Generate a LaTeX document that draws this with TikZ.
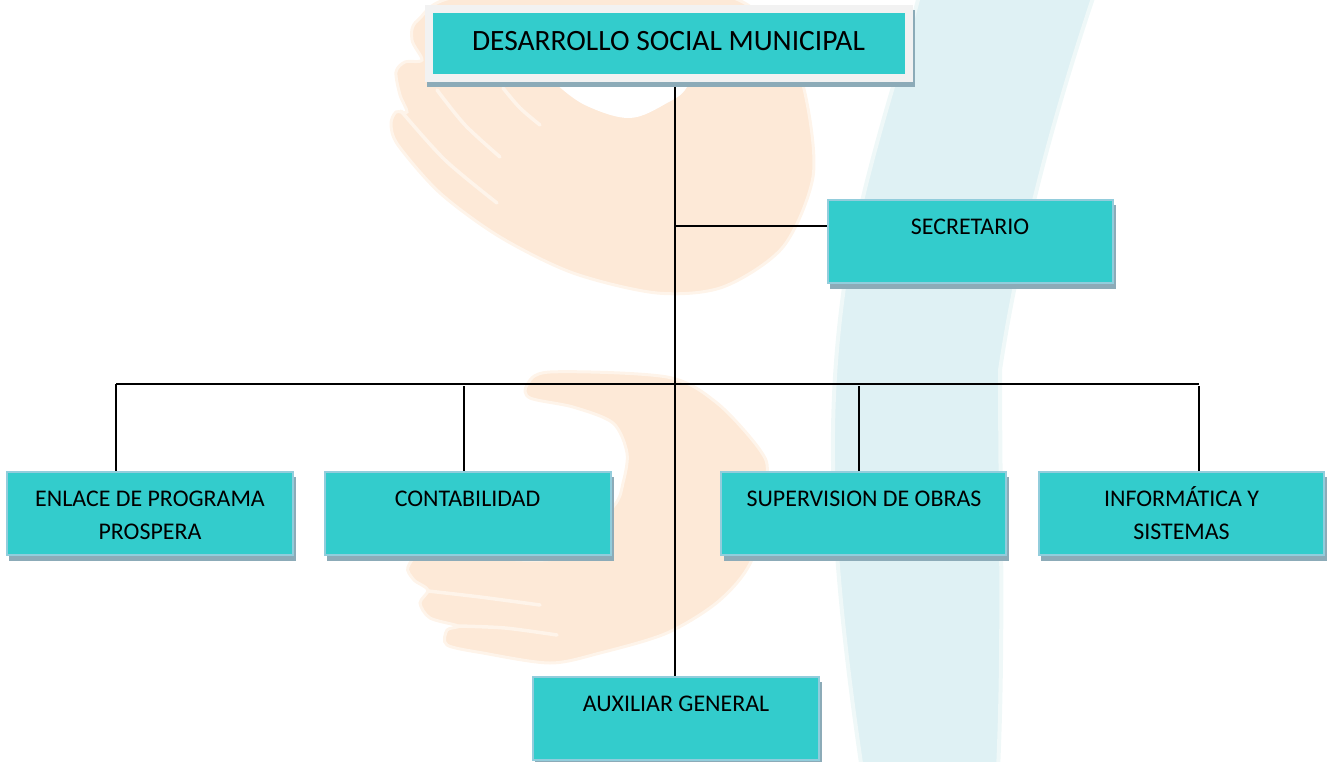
\documentclass[tikz,border=0pt]{standalone}
\usepackage{fontspec}
\setmainfont{Carlito}
\usetikzlibrary{backgrounds}
\definecolor{boxfill}{HTML}{33CCCC}
\definecolor{boxedge}{HTML}{92CDDC}
\definecolor{boxshadow}{HTML}{8CABB8}
\definecolor{topedge}{HTML}{F2F2F2}
\definecolor{wmorange}{HTML}{FDE9D7}
\definecolor{wmorangesoft}{HTML}{FEF4EA}
\definecolor{wmteal}{HTML}{DFF1F4}
\definecolor{wmtealsoft}{HTML}{EFF8F8}
\tikzset{
  orgbox/.style={rectangle,fill=boxfill,draw=boxedge,line width=2bp,outer sep=1bp,inner sep=0pt,minimum height=83bp},
  titlebox/.style={rectangle,fill=boxfill,draw=topedge,line width=7.8bp,outer sep=3.9bp,inner sep=0pt,minimum width=480bp,minimum height=69bp},
  boxtext/.style={anchor=north,inner sep=0pt,align=center,text=black,font=\fontsize{24}{34}\selectfont},
  titletext/.style={anchor=north,inner sep=0pt,text=black,font=\fontsize{29.6}{34}\selectfont},
  link/.style={draw=black,line width=1.9bp},
  handfill/.style={fill=wmorange,draw=wmorangesoft,line width=3bp},
  streak/.style={draw=wmorangesoft,line width=3.5bp,line cap=round},
  bandfill/.style={fill=wmteal,draw=wmtealsoft,line width=4bp}
}
\begin{document}
\begin{tikzpicture}[x=1bp,y=-1bp]
\useasboundingbox (0,0) rectangle (1328,761);

% boxes
\node[titlebox] (top) at (669,43.5) {};
\node[orgbox,minimum width=285bp] (sec) at (970.3,241.5) {};
\node[orgbox,minimum width=286bp] (enl) at (150,513.5) {};
\node[orgbox,minimum width=286bp] (con) at (468,513.5) {};
\node[orgbox,minimum width=285bp] (sup) at (863.8,513.5) {};
\node[orgbox,minimum width=285bp] (inf) at (1181.5,513.5) {};
\node[orgbox,minimum width=286bp] (aux) at (676,718.5) {};

% texts
\node[titletext] (ttop) at (668.5,27) {\strut DESARROLLO SOCIAL MUNICIPAL};
\node[boxtext] (tsec) at (970,210.2) {\strut SECRETARIO};
\node[boxtext] (tenl) at (150,482.2) {\strut ENLACE DE PROGRAMA\\\strut PROSPERA};
\node[boxtext] (tcon) at (467.5,482.2) {\strut CONTABILIDAD};
\node[boxtext] (tsup) at (864,482.2) {\strut SUPERVISION DE OBRAS};
\node[boxtext] (tinf) at (1181.5,482.2) {\strut INFORMÁTICA Y\\\strut SISTEMAS};
\node[boxtext] (taux) at (676,687.2) {\strut AUXILIAR GENERAL};

% junctions
\coordinate (trunk) at (675,384);
\coordinate (secj) at (675,226);
\coordinate (barl) at (116,384);
\coordinate (barr) at (1199,384);
\coordinate (dcon) at (464,386);
\coordinate (dsup) at (859,386);
\coordinate (dinf) at (1199,386);

\begin{scope}[on background layer]
  % watermark: band
  \draw[bandfill] (920,-8) .. controls (900,70) and (870,150) .. (845,280)
    .. controls (828,400) and (825,520) .. (862,770)
    -- (998,770) .. controls (1004,640) and (1000,500) .. (1000,370)
    .. controls (1015,270) and (1045,140) .. (1095,-8) -- cycle;
  % watermark: upper hand
  \draw[handfill] plot[smooth cycle,tension=0.5] coordinates {
    (470,-5) (418,20) (412,40) (422,60) (405,62) (396,72) (400,95) (407,112) (396,112) (391,124)
    (398,145) (440,193) (500,237) (573,273) (657,293) (723,287)
    (783,247) (813,177) (807,103) (790,60) (723,-5)};
  \fill[white] plot[smooth cycle,tension=0.6] coordinates {
    (530,60) (557,85) (587,106) (630,118) (667,103) (687,87) (700,50) (620,30)};
  \draw[streak] plot[smooth,tension=0.5] coordinates {(401,111) (445,160) (497,203)};
  \draw[streak] plot[smooth,tension=0.5] coordinates {(437,90) (465,125) (500,157)};
  \draw[streak] plot[smooth,tension=0.5] coordinates {(503,88) (520,108) (540,125)};
  % watermark: lower hand
  \draw[handfill] plot[smooth cycle,tension=0.5] coordinates {
    (527,385) (550,372) (667,377) (717,403) (760,450) (767,477) (753,557) (720,600) (667,633) (600,653)
    (550,663) (483,653) (447,645) (447,630) (458,626) (430,618) (420,603) (428,590) (414,580) (408,567)
    (430,555) (560,558) (613,507) (623,483) (627,453)
    (613,423) (573,407) (530,398)};
  \draw[streak] plot[smooth,tension=0.5] coordinates {(428,591) (480,597) (540,605)};
  \draw[streak] plot[smooth,tension=0.5] coordinates {(458,626) (505,628) (557,635)};
  % connectors
  \draw[link] (top.south -| trunk) -- (aux.north -| trunk);
  \draw[link] (secj) -- (secj -| sec.west);
  \draw[link] (barl) -- (barr);
  \draw[link] (barl) -- (barl |- enl.north);
  \draw[link] (dcon) -- (dcon |- con.north);
  \draw[link] (dsup) -- (dsup |- sup.north);
  \draw[link] (dinf) -- (dinf |- inf.north);
  % shadows
  \foreach \b in {sec,enl,con,sup,inf,aux}
    \fill[boxshadow] ([shift={(3.3,5.7)}]\b.north west) rectangle ([shift={(1.7,4.7)}]\b.south east);
  \fill[boxshadow] ([shift={(2,5)}]top.north west) rectangle ([shift={(2.5,5)}]top.south east);
\end{scope}
\end{tikzpicture}
\end{document}
